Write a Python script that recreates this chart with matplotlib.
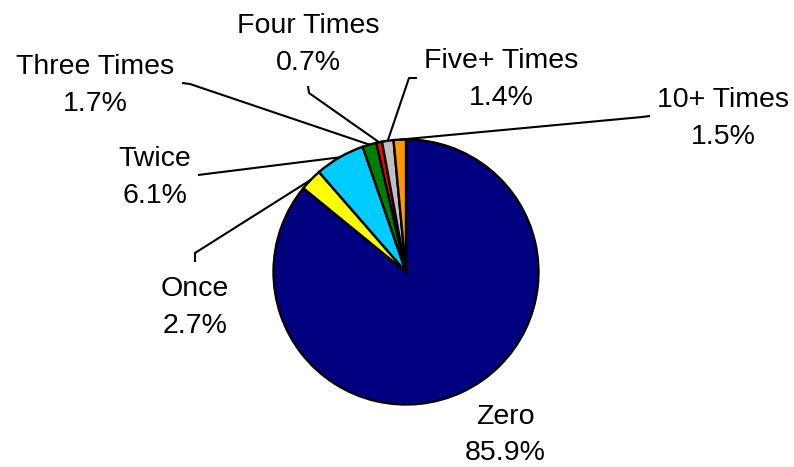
import matplotlib
matplotlib.use("Agg")
import matplotlib.pyplot as plt
import numpy as np

# Share of respondents by number of times
categories = ["Zero", "Once", "Twice", "Three Times", "Four Times", "Five+ Times", "10+ Times"]
shares = [85.9, 2.7, 6.1, 1.7, 0.7, 1.4, 1.5]
colors = ["#000080", "#FFFF00", "#00CCFF", "#008000", "#FF0000", "#C0C0C0", "#FF9900"]

W, H = 794, 467
fig = plt.figure(figsize=(W / 100, H / 100), dpi=100)
ax = fig.add_axes([0, 0, 1, 1])

cx, cy, r = 406, 272, 132.5
ax.pie(shares, colors=colors, center=(cx, cy), radius=r,
       startangle=-90, counterclock=True,
       wedgeprops=dict(edgecolor="black", linewidth=1.7))

# pixel-like coordinates, y grows downward
ax.set_xlim(0, W)
ax.set_ylim(H, 0)
ax.set_aspect("auto")
ax.axis("off")

# label placement: text centre x, first baseline y, gap to second line, leader elbow points
layout = {
    "Zero":        dict(x=505, y=424, gap=36, path=None),
    "Once":        dict(x=195, y=296, gap=37, path=[(195, 262), (195, 253)]),
    "Twice":       dict(x=155, y=166, gap=37, path=[(198, 175), (206, 174)]),
    "Three Times": dict(x=95,  y=74,  gap=37, path=[(182, 83), (190, 84)]),
    "Four Times":  dict(x=308, y=33,  gap=37, path=[(308, 86), (309, 93)]),
    "Five+ Times": dict(x=501, y=68,  gap=37, path=[(417, 78), (409, 78)]),
    "10+ Times":   dict(x=723, y=107, gap=37, path=[(650, 116), (642, 117)]),
}

font = dict(family="Liberation Sans", fontsize=20.5, color="black")

cum = 0.0
total = sum(shares)
for name, v in zip(categories, shares):
    mid = cum + v / 2
    cum += v
    ang = np.deg2rad(-90 + 360 * mid / total)
    px, py = cx + r * np.cos(ang), cy + r * np.sin(ang)
    lay = layout[name]
    if lay["path"] is not None:
        xs = [p[0] for p in lay["path"]] + [px]
        ys = [p[1] for p in lay["path"]] + [py]
        ax.plot(xs, ys, color="black", linewidth=1.5, solid_capstyle="butt")
    ax.text(lay["x"], lay["y"], name, ha="center", va="baseline", **font)
    ax.text(lay["x"], lay["y"] + lay["gap"], f"{v:.1f}%", ha="center", va="baseline", **font)

fig.savefig("out.png", dpi=100)
